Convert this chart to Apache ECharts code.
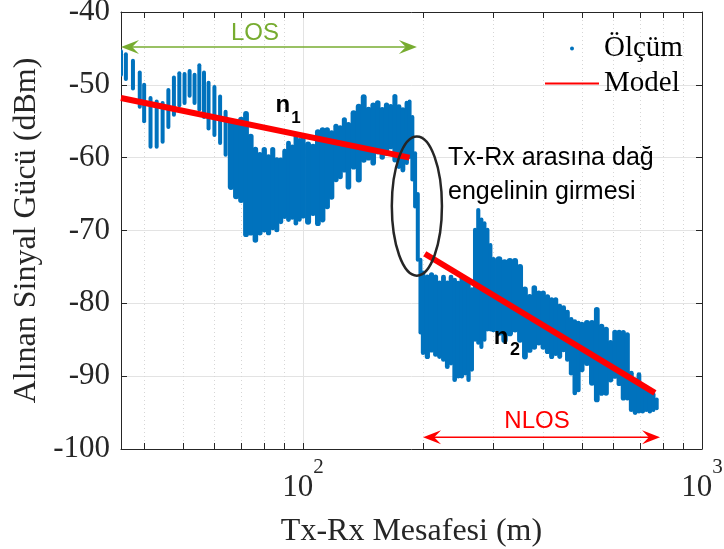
<!DOCTYPE html>
<html>
<head>
<meta charset="utf-8">
<script src="https://cdn.jsdelivr.net/npm/echarts@6/dist/echarts.min.js"></script>
<style>
  html, body { margin: 0; padding: 0; background: #ffffff; }
  #chart { width: 724px; height: 549px; }
</style>
</head>
<body>
<div id="chart"></div>
<script>
// Measured received power: for each distance, the spread of samples (top / bottom, dBm)
const distances = [
  35, 36, 37.5, 39, 40, 41.5, 43, 44.5, 46, 47.5, 49, 50.5, 52, 53.5, 55, 56.5, 58, 60, 62, 64,
  66, 68, 70, 72, 74, 76, 78, 80, 82, 84, 86, 88, 90, 92, 94, 96, 98, 100, 103, 106,
  109, 112, 115, 118, 121, 124, 127, 130, 134, 138, 142, 146, 150, 154, 158, 162, 166, 170, 174, 178,
  182, 185, 188, 191, 194, 197, 200, 205, 210, 215, 220, 225, 230, 235, 240, 245, 250, 255, 260, 265,
  270, 275, 280, 285, 290, 295, 300, 310, 320, 330, 340, 350, 360, 370, 380, 390, 400, 410, 420, 430,
  440, 450, 460, 470, 480, 490, 500, 515, 530, 545, 560, 575, 590, 605, 620, 635, 650, 665, 680, 695,
  710, 725, 740, 755, 770
];
const upperDbm = [
  -45.4, -45.8, -46.7, -48.3, -50.0, -51.8, -52.3, -52.5, -50.7, -49.0, -48.4, -48.5, -48.1, -48.6, -47.3, -48.3, -49.7, -50.3, -51.6, -53.7,
  -55.0, -55.5, -54.8, -54.0, -57.1, -58.9, -59.6, -58.9, -59.9, -58.9, -60.3, -60.3, -59.1, -58.0, -58.5, -57.1, -57.6, -57.5, -58.2, -58.5,
  -56.5, -56.2, -56.2, -56.6, -55.7, -55.9, -54.8, -55.5, -53.9, -53.0, -51.7, -53.4, -52.8, -52.5, -53.4, -52.8, -53.0, -51.6, -53.0, -53.4,
  -52.5, -52.3, -54.4, -59.4, -65.0, -74.0, -75.8, -76.4, -76.1, -76.4, -77.2, -76.4, -77.2, -76.4, -76.8, -77.2, -76.4, -77.2, -76.8, -78.1,
  -69.9, -67.2, -68.5, -69.0, -69.9, -72.0, -74.0, -74.0, -74.4, -74.2, -74.2, -75.0, -78.1, -79.1, -77.9, -78.6, -78.6, -79.1, -79.5, -79.5,
  -80.4, -80.6, -81.2, -82.2, -82.5, -82.7, -82.9, -82.7, -82.7, -80.9, -83.2, -83.6, -85.4, -84.0, -84.0, -84.0, -84.3, -89.6, -90.5, -89.8,
  -91.4, -91.9, -92.3, -92.5, -93.2
];
const lowerDbm = [
  -48.6, -49.2, -50.5, -53.0, -55.0, -58.5, -58.5, -57.8, -55.8, -54.1, -52.8, -52.5, -51.5, -52.5, -53.4, -54.4, -56.0, -56.9, -58.0, -59.6,
  -64.0, -65.3, -65.8, -70.5, -70.3, -71.3, -70.3, -69.9, -70.3, -69.6, -69.9, -68.8, -68.1, -68.5, -68.2, -69.0, -68.5, -68.0, -68.8, -67.6,
  -69.0, -68.5, -66.7, -65.4, -63.0, -62.6, -61.7, -64.0, -61.2, -63.0, -60.3, -60.0, -60.7, -59.2, -59.9, -59.4, -58.5, -60.3, -61.2, -61.7,
  -60.7, -59.9, -63.0, -66.7, -74.0, -84.0, -86.8, -87.3, -86.4, -87.0, -87.3, -87.7, -88.7, -88.2, -90.5, -90.0, -90.0, -89.6, -90.5, -89.1,
  -85.0, -85.4, -86.0, -85.0, -83.6, -83.6, -83.6, -84.0, -85.0, -84.1, -83.6, -85.0, -87.3, -86.4, -86.0, -85.4, -86.0, -86.6, -87.3, -86.9,
  -87.3, -86.4, -87.7, -89.6, -92.3, -91.9, -89.1, -88.2, -90.9, -93.2, -92.3, -92.3, -90.5, -90.0, -91.0, -93.0, -93.0, -94.6, -95.0, -94.8,
  -94.8, -94.6, -94.8, -94.6, -94.4
];

// Two-slope path-loss model (LOS segment, NLOS segment)
const modelLosX = [35, 185];
const modelLosY = [-51.8, -60.0];
const modelNlosX = [202, 762];
const modelNlosY = [-73.2, -92.3];

// Axis ticks
const xMajorTicks = [100, 1000];
const xMinorTicks = [40, 50, 60, 70, 80, 90, 200, 300, 400, 500, 600, 700, 800, 900];

const SERIF = "'Liberation Serif', 'Times New Roman', serif";
const SANS = "'Liberation Sans', Arial, sans-serif";
const AXIS_COLOR = '#262626';
const MEAS_COLOR = '#0072BD';
const MODEL_COLOR = '#FF0000';
const LOS_COLOR = '#77AC30';

const chart = echarts.init(document.getElementById('chart'), null, { renderer: 'canvas' });

const xBase = { type: 'log', logBase: 10, min: 35, max: 1000, gridIndex: 0 };
const axisLineStyle = { show: true, onZero: false, lineStyle: { color: AXIS_COLOR, width: 1 } };
const tickStyle = { color: AXIS_COLOR, width: 1 };

const option = {
  animation: false,
  backgroundColor: '#ffffff',
  grid: { left: 121, right: 22, top: 12, bottom: 100, containLabel: false, outerBoundsMode: 'none' },
  xAxis: [
    {
      ...xBase, position: 'bottom',
      axisLine: axisLineStyle,
      axisTick: { show: true, inside: true, length: 6, customValues: xMinorTicks, lineStyle: tickStyle },
      axisLabel: { show: false },
      splitLine: { show: true, lineStyle: { color: '#d6d6d6', width: 1, type: [1, 3] } },
      minorTick: { show: false }, minorSplitLine: { show: false }
    },
    {
      ...xBase, position: 'bottom',
      axisLine: { show: false },
      axisTick: { show: true, inside: true, length: 6, customValues: xMajorTicks, lineStyle: tickStyle },
      axisLabel: {
        show: true, customValues: xMajorTicks, margin: 8,
        formatter: v => '{b|10}{s|' + Math.round(Math.log10(v)) + '}',
        rich: {
          b: { fontFamily: SERIF, fontSize: 31, lineHeight: 46, color: AXIS_COLOR, verticalAlign: 'bottom' },
          s: { fontFamily: SERIF, fontSize: 21, lineHeight: 21, color: AXIS_COLOR, verticalAlign: 'top' }
        }
      },
      splitLine: { show: true, lineStyle: { color: '#e3e3e3', width: 1 } },
      name: 'Tx-Rx Mesafesi (m)', nameLocation: 'middle', nameGap: 67,
      nameTextStyle: { fontFamily: SERIF, fontSize: 32, color: AXIS_COLOR }
    },
    {
      ...xBase, position: 'top',
      axisLine: axisLineStyle,
      axisTick: { show: true, inside: true, length: 6, customValues: xMinorTicks.concat(xMajorTicks), lineStyle: tickStyle },
      axisLabel: { show: false },
      splitLine: { show: false }
    }
  ],
  yAxis: [
    {
      type: 'value', min: -100, max: -40, interval: 10, position: 'left',
      axisLine: axisLineStyle,
      axisTick: { show: true, inside: true, length: 6, lineStyle: tickStyle },
      axisLabel: { margin: 11, fontFamily: SERIF, fontSize: 31, color: AXIS_COLOR },
      splitLine: { show: true, lineStyle: { color: '#e3e3e3', width: 1 } },
      name: 'Alınan Sinyal Gücü (dBm)', nameLocation: 'middle', nameGap: 74,
      nameTextStyle: { fontFamily: SERIF, fontSize: 32, color: AXIS_COLOR }
    },
    {
      type: 'value', min: -100, max: -40, interval: 10, position: 'right',
      axisLine: axisLineStyle,
      axisTick: { show: true, inside: true, length: 6, lineStyle: tickStyle },
      axisLabel: { show: false },
      splitLine: { show: false }
    }
  ],
  legend: {
    orient: 'vertical', left: 539, top: 29, padding: 5,
    itemWidth: 54, itemHeight: 4, itemGap: 6,
    selectedMode: false,
    textStyle: { fontFamily: SERIF, fontSize: 29, lineHeight: 29, color: '#000000' },
    data: [
      { name: 'Ölçüm', icon: 'circle', itemStyle: { color: MEAS_COLOR } },
      { name: 'Model', itemStyle: { opacity: 0 } }
    ]
  },
  series: [
    {
      type: 'custom', name: 'Ölçüm', xAxisIndex: 0, yAxisIndex: 0,
      data: distances.map((d, i) => [d, upperDbm[i], lowerDbm[i]]),
      encode: { x: 0, y: [1, 2] },
      itemStyle: { color: MEAS_COLOR },
      clip: true, z: 2,
      renderItem: (params, api) => {
        const i = params.dataIndex;
        const top = api.coord([api.value(0), api.value(1)]);
        const bottom = api.coord([api.value(0), api.value(2)]);
        // close up the sample columns beyond the first hill, where samples are dense
        const next = distances[Math.min(i + 1, distances.length - 1)];
        const prev = distances[Math.max(i - 1, 0)];
        const gap = (api.coord([next, -70])[0] - api.coord([prev, -70])[0]) / 2;
        const width = api.value(0) < 65 ? 4 : Math.max(4, gap + 1);
        return {
          type: 'line',
          shape: { x1: top[0], y1: top[1], x2: bottom[0], y2: bottom[1] },
          style: { stroke: MEAS_COLOR, lineWidth: width, lineCap: 'round' }
        };
      }
    },
    {
      type: 'line', name: 'Model', xAxisIndex: 0, yAxisIndex: 0,
      data: modelLosX.map((x, i) => [x, modelLosY[i]]),
      symbol: 'none', z: 3,
      itemStyle: { color: MODEL_COLOR },
      lineStyle: { color: MODEL_COLOR, width: 6, cap: 'butt' }
    },
    {
      type: 'line', name: 'Model', xAxisIndex: 0, yAxisIndex: 0,
      data: modelNlosX.map((x, i) => [x, modelNlosY[i]]),
      symbol: 'none', z: 3,
      itemStyle: { color: MODEL_COLOR },
      lineStyle: { color: MODEL_COLOR, width: 6, cap: 'butt' }
    }
  ]
};

chart.setOption(option);

// Annotations, anchored in data units (distance m, dBm)
const px = (d, v) => chart.convertToPixel({ xAxisIndex: 0, yAxisIndex: 0 }, [d, v]);

function arrowHead(tip, dir, color) {
  const L = 18, W = 7;
  return {
    type: 'polygon', z: 10, silent: true,
    shape: { points: [
      [tip[0], tip[1]],
      [tip[0] - dir * L, tip[1] - W],
      [tip[0] - dir * L * 0.62, tip[1]],
      [tip[0] - dir * L, tip[1] + W]
    ] },
    style: { fill: color }
  };
}

function doubleArrow(d1, d2, v, color) {
  const a = px(d1, v), b = px(d2, v);
  return [
    { type: 'line', z: 10, silent: true,
      shape: { x1: a[0] + 6, y1: a[1], x2: b[0] - 6, y2: b[1] },
      style: { stroke: color, lineWidth: 1.5 } },
    arrowHead(a, -1, color),
    arrowHead(b, 1, color)
  ];
}

function label(d, v, text, font, color, align, dx, dy) {
  const p = px(d, v);
  return {
    type: 'text', z: 11, silent: true,
    x: p[0] + (dx || 0), y: p[1] + (dy || 0),
    style: { text: text, font: font, fill: color, align: align || 'center', verticalAlign: 'middle' }
  };
}

const eL = px(167, -57.1), eR = px(223, -76.2);
const graphics = [].concat(
  doubleArrow(35, 193, -44.8, LOS_COLOR),
  doubleArrow(200, 785, -98.4, MODEL_COLOR),
  [
    label(75.8, -42.9, 'LOS', '24px ' + SANS, LOS_COLOR),
    label(386, -96.2, 'NLOS', '24px ' + SANS, MODEL_COLOR),
    label(89.1, -52.8, 'n', 'bold 24px ' + SANS, '#000000'),
    label(89.1, -52.8, '1', 'bold 17px ' + SANS, '#000000', 'center', 13, 13),
    label(313.5, -84.7, 'n', 'bold 24px ' + SANS, '#000000'),
    label(313.5, -84.7, '2', 'bold 18px ' + SANS, '#000000', 'center', 14, 12),
    label(231, -60.0, 'Tx-Rx arasına dağ', '25px ' + SANS, '#000000', 'left'),
    label(231, -64.7, 'engelinin girmesi', '25px ' + SANS, '#000000', 'left'),
    {
      type: 'ellipse', z: 10, silent: true,
      shape: { cx: (eL[0] + eR[0]) / 2, cy: (eL[1] + eR[1]) / 2, rx: (eR[0] - eL[0]) / 2, ry: (eR[1] - eL[1]) / 2 },
      style: { fill: 'none', stroke: AXIS_COLOR, lineWidth: 2.5 }
    }
  ]
);

chart.setOption({ graphic: graphics });
</script>
</body>
</html>
